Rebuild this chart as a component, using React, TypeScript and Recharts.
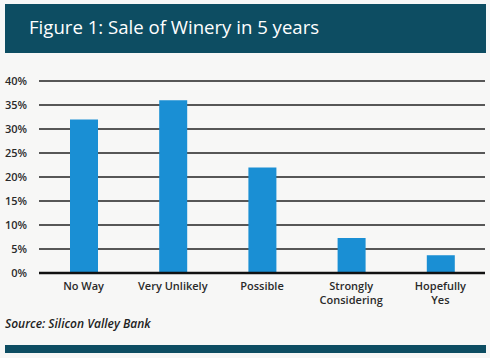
import { BarChart, Bar, XAxis, YAxis, CartesianGrid } from "recharts"

const categories = ["No Way", "Very Unlikely", "Possible", "Strongly Considering", "Hopefully Yes"]
const shares = [32, 36, 22, 7.3, 3.7]
const yTicks = [0, 5, 10, 15, 20, 25, 30, 35, 40]

const labelLines: Record<string, string[]> = {
  "Strongly Considering": ["Strongly", "Considering"],
  "Hopefully Yes": ["Hopefully", "Yes"],
}

const chartData = categories.map((name, i) => ({ name, value: shares[i] }))

const FONT = "'Open Sans', 'Noto Sans', sans-serif"

function CategoryTick(props: any) {
  const { x, y, payload } = props
  const lines = labelLines[payload.value] || [payload.value]
  return (
    <text x={x} y={y} textAnchor="middle" fill="#2a2a2a" fontSize={11} fontWeight={600} fontFamily={FONT}>
      {lines.map((line, i) => (
        <tspan key={i} x={x} dy={i === 0 ? 9 : 14}>
          {line}
        </tspan>
      ))}
    </text>
  )
}

export default function App() {
  return (
    <div
      style={{
        position: "absolute",
        left: 0,
        top: 0,
        width: 490,
        height: 358,
        background: "#f7f7f6",
        fontFamily: FONT,
        overflow: "hidden",
      }}
    >
      <div
        style={{
          position: "absolute",
          left: 5,
          top: 4,
          width: 481,
          height: 49,
          background: "#0d4d62",
        }}
      />
      <div
        style={{
          position: "absolute",
          left: 29,
          top: 15,
          color: "#ffffff",
          fontSize: 18.6,
          lineHeight: "24px",
          whiteSpace: "nowrap",
        }}
      >
        Figure 1: Sale of Winery in 5 years
      </div>

      <div style={{ position: "absolute", left: 0, top: 0 }}>
        <BarChart width={490} height={358} data={chartData} margin={{ top: 81, right: 5, bottom: 55, left: 0 }}>
          <CartesianGrid vertical={false} stroke="#222" strokeWidth={1.3} />
          <XAxis
            dataKey="name"
            interval={0}
            height={30}
            tickLine={false}
            axisLine={{ stroke: "#111", strokeWidth: 2.5 }}
            tick={<CategoryTick />}
          />
          <YAxis
            width={39}
            domain={[0, 40]}
            ticks={yTicks}
            tickFormatter={(v: number) => `${v}%`}
            axisLine={false}
            tickLine={false}
            tickSize={0}
            tickMargin={12}
            tick={{ fill: "#2a2a2a", fontSize: 11, fontWeight: 600, fontFamily: FONT }}
          />
          <Bar dataKey="value" fill="#1a8fd4" barSize={28} isAnimationActive={false} />
        </BarChart>
      </div>

      <div
        style={{
          position: "absolute",
          left: 5,
          top: 315,
          fontSize: 12,
          fontStyle: "italic",
          fontWeight: 600,
          color: "#222",
          whiteSpace: "nowrap",
        }}
      >
        Source: Silicon Valley Bank
      </div>

      <div
        style={{
          position: "absolute",
          left: 5,
          top: 345,
          width: 481,
          height: 8,
          background: "#0d4d62",
        }}
      />
    </div>
  )
}
